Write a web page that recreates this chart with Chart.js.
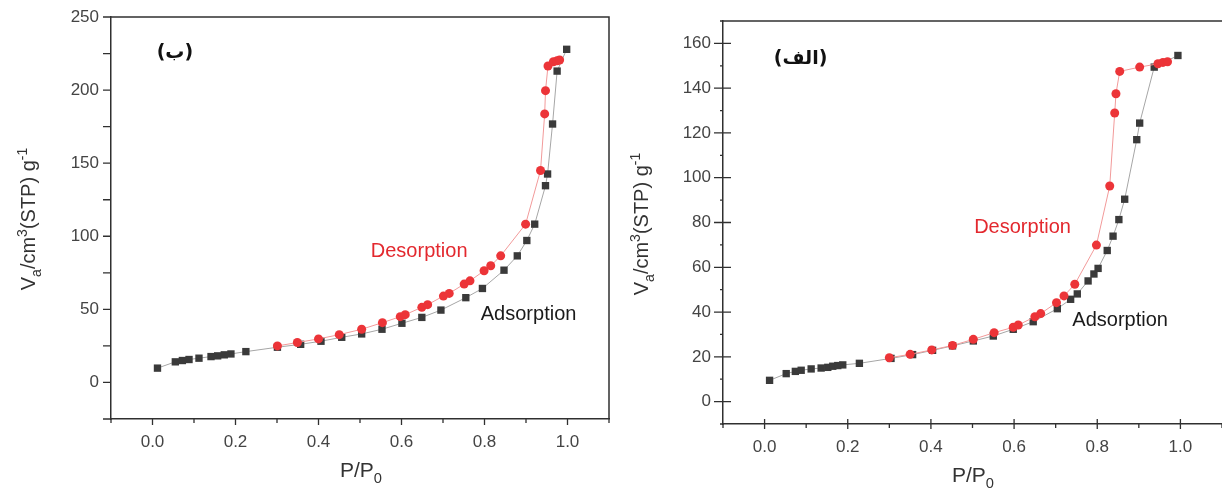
<!DOCTYPE html>
<html>
<head>
<meta charset="utf-8">
<script src="https://cdn.jsdelivr.net/npm/chart.js@4.4.0/dist/chart.umd.min.js"></script>
<style>
    html, body { margin: 0; padding: 0; background: #fff; }
    .wrap { display: flex; width: 1222px; height: 489px; overflow: hidden; }
    .panel { position: relative; height: 489px; }
</style>
</head>
<body>
<div class="wrap">
    <div class="panel" style="width:612px"><canvas id="chart-b" width="612" height="489"></canvas></div>
    <div class="panel" style="width:610px"><canvas id="chart-alef" width="610" height="489"></canvas></div>
</div>
<script>
// panel (ب)
const bAdsX = [0.012, 0.055, 0.072, 0.088, 0.112, 0.141, 0.157, 0.173, 0.189, 0.225, 0.301, 0.357, 0.406, 0.456, 0.504, 0.553, 0.601, 0.649, 0.695, 0.755, 0.795, 0.847, 0.879, 0.902, 0.921, 0.947, 0.952, 0.964, 0.975, 0.998];
const bAdsY = [9.8, 14.1, 15.0, 15.7, 16.6, 17.7, 18.2, 18.9, 19.5, 21.1, 24.1, 26.1, 28.2, 30.9, 33.2, 36.4, 40.5, 44.5, 49.5, 58.0, 64.3, 76.8, 86.6, 97.1, 108.3, 134.6, 142.6, 176.8, 213.0, 227.9];
const bDesX = [0.301, 0.349, 0.400, 0.450, 0.504, 0.554, 0.597, 0.609, 0.649, 0.663, 0.701, 0.715, 0.751, 0.765, 0.799, 0.815, 0.839, 0.899, 0.935, 0.945, 0.947, 0.953, 0.966, 0.975, 0.981];
const bDesY = [25.0, 27.3, 29.8, 32.7, 36.4, 40.9, 45.0, 46.4, 51.4, 53.2, 59.1, 60.9, 67.3, 69.5, 76.4, 79.8, 86.6, 108.3, 145.0, 183.7, 199.6, 216.5, 219.4, 220.1, 220.6];

// panel (الف)
const aAdsX = [0.012, 0.052, 0.074, 0.088, 0.112, 0.136, 0.152, 0.164, 0.176, 0.188, 0.228, 0.304, 0.356, 0.404, 0.452, 0.502, 0.550, 0.598, 0.646, 0.704, 0.736, 0.752, 0.778, 0.792, 0.802, 0.824, 0.838, 0.852, 0.866, 0.895, 0.902, 0.937, 0.994];
const aAdsY = [9.5, 12.5, 13.5, 14.0, 14.6, 15.0, 15.3, 15.8, 16.1, 16.4, 17.1, 19.3, 21.0, 22.9, 24.9, 27.1, 29.3, 32.3, 35.7, 41.5, 45.7, 48.1, 53.9, 57.0, 59.5, 67.5, 73.9, 81.3, 90.4, 117.0, 124.4, 149.4, 154.6];
const aDesX = [0.300, 0.350, 0.402, 0.452, 0.502, 0.552, 0.598, 0.610, 0.650, 0.664, 0.702, 0.720, 0.746, 0.798, 0.830, 0.842, 0.845, 0.854, 0.902, 0.946, 0.958, 0.969];
const aDesY = [19.6, 21.1, 23.1, 25.1, 27.8, 30.8, 33.2, 34.2, 37.9, 39.3, 44.2, 47.2, 52.4, 69.9, 96.3, 128.9, 137.5, 147.5, 149.4, 150.9, 151.5, 151.8];

const xTickLabels = ['0.0', '0.2', '0.4', '0.6', '0.8', '1.0'];
const bYTickLabels = [0, 50, 100, 150, 200, 250];
const aYTickLabels = [0, 20, 40, 60, 80, 100, 120, 140, 160];

const FONT = '"Liberation Sans", Arial, sans-serif';
const AXIS = '#303030';

function toPoints(xs, ys) {
    return xs.map((x, i) => ({ x: x, y: ys[i] }));
}

// axis titles with sub/superscripts, drawn as text
function drawRich(ctx, item) {
    const small = item.size * 0.7;
    ctx.save();
    ctx.translate(item.x, item.y);
    if (item.rotate) ctx.rotate(item.rotate);
    let total = 0;
    item.parts.forEach(p => {
        ctx.font = (p.sub || p.sup ? small : item.size) + 'px ' + FONT;
        total += ctx.measureText(p.t).width;
    });
    let cx = -total / 2;
    ctx.fillStyle = '#333';
    ctx.textBaseline = 'alphabetic';
    ctx.textAlign = 'left';
    item.parts.forEach(p => {
        ctx.font = (p.sub || p.sup ? small : item.size) + 'px ' + FONT;
        const dy = p.sub ? item.size * 0.28 : (p.sup ? -item.size * 0.42 : 0);
        ctx.fillText(p.t, cx, dy);
        cx += ctx.measureText(p.t).width;
    });
    ctx.restore();
}

const framePlugin = {
    id: 'frame',
    afterDraw(chart, args, opts) {
        const ctx = chart.ctx;
        const { left, right, top, bottom } = chart.chartArea;
        const xs = chart.scales.x, ys = chart.scales.y;
        ctx.save();
        ctx.strokeStyle = AXIS;
        ctx.lineWidth = 1.5;
        ctx.beginPath();
        ctx.moveTo(left, top);
        ctx.lineTo(right, top);
        if (opts.rightBorder) {
            ctx.lineTo(right, bottom);
        }
        ctx.stroke();

        // tick marks from the scales
        ctx.lineWidth = 1.3;
        ctx.beginPath();
        xs.ticks.forEach(t => {
            const px = xs.getPixelForValue(t.value);
            const major = Math.round(t.value * 10) % 2 === 0;
            const out = major ? opts.xMajorOut : opts.xMinorOut;
            const inn = major ? opts.xMajorIn : 0;
            ctx.moveTo(px, bottom - inn);
            ctx.lineTo(px, bottom + out);
        });
        ys.ticks.forEach(t => {
            const py = ys.getPixelForValue(t.value);
            const major = Math.round(t.value) % opts.yMajor === 0;
            const out = major ? opts.yMajorOut : opts.yMinorOut;
            const inn = major ? opts.yMajorIn : 0;
            ctx.moveTo(left - out, py);
            ctx.lineTo(left + inn, py);
        });
        ctx.stroke();

        // annotations
        (opts.notes || []).forEach(n => {
            ctx.font = n.font;
            ctx.fillStyle = n.color;
            ctx.textAlign = n.align || 'left';
            ctx.textBaseline = 'alphabetic';
            ctx.fillText(n.text, xs.getPixelForValue(n.x), ys.getPixelForValue(n.y));
        });
        (opts.titles || []).forEach(item => drawRich(ctx, item));
        ctx.restore();
    }
};

function makeChart(id, cfg) {
    const ctx = document.getElementById(id).getContext('2d');
    return new Chart(ctx, {
        type: 'scatter',
        data: {
            datasets: [{
                label: 'Desorption',
                data: toPoints(cfg.desX, cfg.desY),
                showLine: true,
                borderColor: '#f29a9a',
                borderWidth: 1,
                pointStyle: 'circle',
                pointRadius: 4.5,
                pointBackgroundColor: '#ec3438',
                pointBorderColor: '#ec3438',
                pointBorderWidth: 0,
                order: 0
            }, {
                label: 'Adsorption',
                data: toPoints(cfg.adsX, cfg.adsY),
                showLine: true,
                borderColor: '#a6a6a6',
                borderWidth: 1,
                pointStyle: 'rect',
                pointRadius: 5.2,
                pointBackgroundColor: '#3a3a3a',
                pointBorderColor: '#3a3a3a',
                pointBorderWidth: 0,
                order: 1
            }]
        },
        options: {
            responsive: false,
            animation: false,
            events: [],
            layout: { padding: cfg.padding, autoPadding: false },
            plugins: {
                legend: { display: false },
                tooltip: { enabled: false },
                frame: cfg.frame
            },
            scales: {
                x: {
                    type: 'linear',
                    min: -0.1,
                    max: 1.1,
                    afterFit: s => {
                        s.height = cfg.xHeight;
                        s.paddingLeft = 0;
                        s.paddingRight = 0;
                    },
                    grid: { display: false, drawTicks: false },
                    border: { display: true, color: AXIS, width: 1.5 },
                    ticks: {
                        stepSize: 0.1,
                        padding: 13,
                        color: '#444',
                        font: { family: FONT, size: 17 },
                        maxRotation: 0,
                        autoSkip: false,
                        callback: v => {
                            const s = (Math.round(v * 10) / 10).toFixed(1);
                            return xTickLabels.includes(s) ? s : '';
                        }
                    }
                },
                y: {
                    min: cfg.yMin,
                    max: cfg.yMax,
                    afterFit: s => {
                        s.width = cfg.yWidth;
                        s.paddingTop = 0;
                        s.paddingBottom = 0;
                    },
                    grid: { display: false, drawTicks: false },
                    border: { display: true, color: AXIS, width: 1.5 },
                    ticks: {
                        stepSize: cfg.yStep,
                        padding: 12,
                        color: '#444',
                        font: { family: FONT, size: 17 },
                        autoSkip: false,
                        callback: v => cfg.yLabels.includes(Math.round(v)) ? String(Math.round(v)) : ''
                    }
                }
            }
        },
        plugins: [framePlugin]
    });
}

const yTitleParts = [
    { t: 'V' }, { t: 'a', sub: true }, { t: '/cm' }, { t: '3', sup: true },
    { t: '(STP) g' }, { t: '-1', sup: true }
];
const xTitleParts = [{ t: 'P/P' }, { t: '0', sub: true }];

makeChart('chart-b', {
    adsX: bAdsX, adsY: bAdsY, desX: bDesX, desY: bDesY,
    yMin: -25, yMax: 250, yStep: 25, yLabels: bYTickLabels,
    yWidth: 111, xHeight: 70,
    padding: { left: 0, right: 3, top: 17, bottom: 0 },
    frame: {
        rightBorder: true,
        xMajorOut: 6, xMinorOut: 4, xMajorIn: 0,
        yMajor: 50, yMajorOut: 8, yMinorOut: 8, yMajorIn: 0,
        notes: [
            { text: '(ب)', x: 0.01, y: 222, font: 'bold 19px "DejaVu Sans", sans-serif', color: '#111' },
            { text: 'Desorption', x: 0.526, y: 86, font: '20px ' + FONT, color: '#e3282e' },
            { text: 'Adsorption', x: 0.791, y: 42.4, font: '20px ' + FONT, color: '#1a1a1a' }
        ],
        titles: [
            { parts: yTitleParts, x: 35, y: 219, size: 20, rotate: -Math.PI / 2 },
            { parts: xTitleParts, x: 361, y: 477, size: 21 }
        ]
    }
});

makeChart('chart-alef', {
    adsX: aAdsX, adsY: aAdsY, desX: aDesX, desY: aDesY,
    yMin: -10, yMax: 170, yStep: 10, yLabels: aYTickLabels,
    yWidth: 111, xHeight: 65,
    padding: { left: 0, right: 0, top: 21, bottom: 0 },
    frame: {
        rightBorder: false,
        xMajorOut: 5, xMinorOut: 4, xMajorIn: 5,
        yMajor: 20, yMajorOut: 9, yMinorOut: 3, yMajorIn: 8,
        notes: [
            { text: '(الف)', x: 0.022, y: 151, font: 'bold 19px "DejaVu Sans", sans-serif', color: '#111' },
            { text: 'Desorption', x: 0.504, y: 75.2, font: '20px ' + FONT, color: '#e3282e' },
            { text: 'Adsorption', x: 0.74, y: 33.8, font: '20px ' + FONT, color: '#1a1a1a' }
        ],
        titles: [
            { parts: yTitleParts, x: 36, y: 224, size: 20, rotate: -Math.PI / 2 },
            { parts: xTitleParts, x: 361, y: 482, size: 21 }
        ]
    }
});
</script>
</body>
</html>
